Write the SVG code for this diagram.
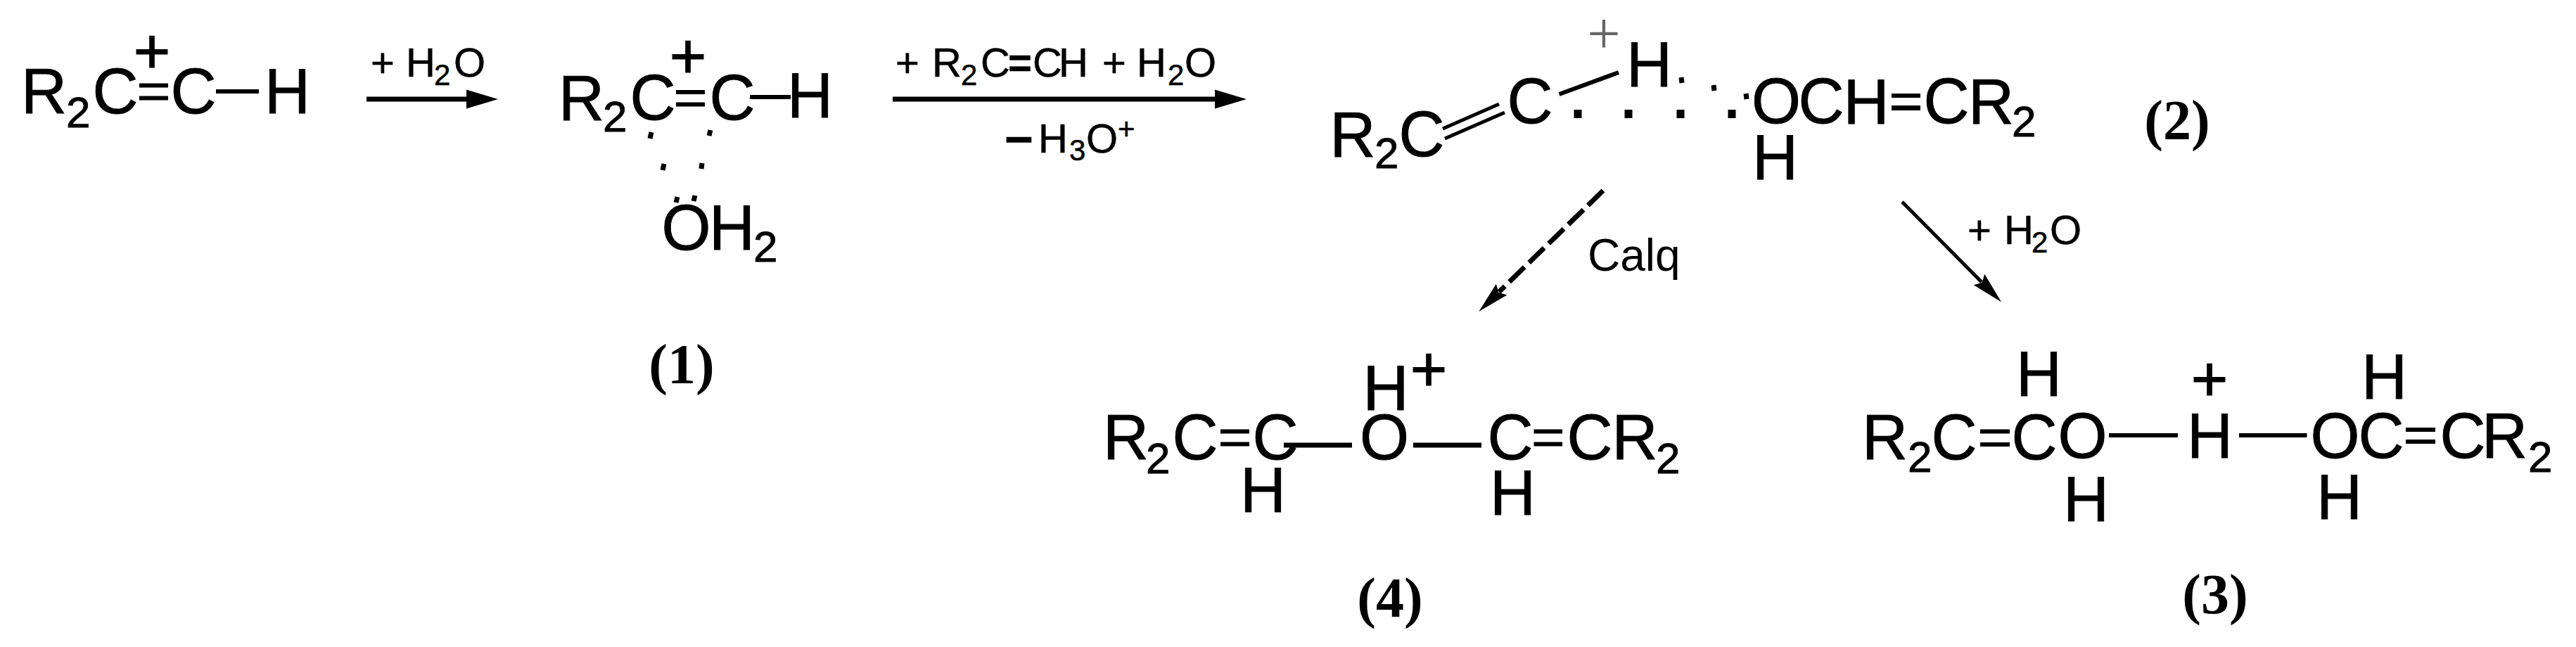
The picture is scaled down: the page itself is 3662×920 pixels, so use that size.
<svg xmlns="http://www.w3.org/2000/svg" width="3662" height="920" viewBox="0 0 3662 920">
<style>
text{font-family:"Liberation Sans",Arial,sans-serif;fill:#000}
.a{font-size:90px;stroke:#000;stroke-width:.9px}
.s{font-size:62px}
.l{font-size:58px;stroke:#000;stroke-width:.5px}
.ls{font-size:42px}
.b{font-weight:bold}
.p{font-size:90px;text-anchor:middle;stroke:#000;stroke-width:1.2px}
.n{font-family:"Liberation Serif","Times New Roman",serif;font-size:80px;font-weight:bold;text-anchor:middle}
line{stroke:#000;fill:none}
.w{stroke-width:7}
.d{stroke-width:6}
.t{stroke-width:5}
.dot{stroke-width:7}
.sq{stroke-width:11}
</style>
<defs>
<marker id="big" markerUnits="userSpaceOnUse" markerWidth="46" markerHeight="28" refX="1" refY="14" orient="auto"><path d="M0 0.5L45 14L0 27.5z"/></marker>
<marker id="thin" markerUnits="userSpaceOnUse" markerWidth="46" markerHeight="24" refX="5" refY="12" orient="auto"><path d="M0 1L45 12L0 23L6 12z"/></marker>
</defs>
<g id="connectors">
<line class="w" x1="521" y1="141" x2="664" y2="141" marker-end="url(#big)"/>
<line class="w" x1="1269" y1="141" x2="1728" y2="141" marker-end="url(#big)"/>
<line x1="2279" y1="271" x2="2131" y2="415" stroke-width="7" stroke-dasharray="30 9" marker-end="url(#thin)"/>
<line x1="2704" y1="287" x2="2817" y2="401" stroke-width="5" marker-end="url(#thin)"/>
</g>
<g id="reactant">
<text class="a" y="161"><tspan x="30">R</tspan><tspan class="s" x="94" y="181">2</tspan><tspan x="131.500" y="161">C</tspan><tspan x="242.500">C</tspan><tspan x="376">H</tspan></text>
<text class="p" x="216" y="104">+</text>
<line class="d" x1="198" y1="121.500" x2="239" y2="121.500"/><line class="d" x1="198" y1="139.500" x2="239" y2="139.500"/>
<line class="d" x1="307" y1="130" x2="368" y2="130"/>
</g>
<g id="node-1">
<text class="a"><tspan x="794" y="171">R</tspan><tspan class="s" x="857" y="187">2</tspan><tspan x="895.500" y="170">C</tspan><tspan x="1008.500" y="170">C</tspan><tspan x="1119" y="167">H</tspan></text>
<text class="p" x="978" y="111">+</text>
<line class="d" x1="961" y1="131" x2="1002" y2="131"/><line class="d" x1="961" y1="148.500" x2="1002" y2="148.500"/>
<line class="d" x1="1066" y1="138" x2="1124" y2="138"/>
<line class="dot" x1="926" y1="188" x2="924" y2="197"/><line class="dot" x1="1010" y1="185" x2="1008" y2="193"/>
<line class="dot" x1="944" y1="233" x2="942" y2="242"/><line class="dot" x1="998" y1="232" x2="997" y2="240"/>
<line class="dot" x1="963" y1="280" x2="961" y2="288"/><line class="dot" x1="988" y1="278" x2="986" y2="286"/>
<text class="a" y="355"><tspan x="940.600">O</tspan><tspan x="1008">H</tspan><tspan class="s" x="1071" y="372">2</tspan></text>
<text class="n" x="969" y="545">(1)</text>
</g>
<g id="node-2">
<text class="a"><tspan x="1890.500" y="223">R</tspan><tspan class="s" x="1954" y="239">2</tspan><tspan x="1988.500" y="222">C</tspan><tspan x="2142.500" y="175">C</tspan><tspan x="2312" y="123">H</tspan><tspan x="2490" y="175">O</tspan><tspan x="2556.500" y="175">C</tspan><tspan x="2620.500" y="176">H</tspan><tspan x="2734.500" y="175">C</tspan><tspan x="2798" y="176">R</tspan><tspan class="s" x="2860" y="194">2</tspan><tspan x="2491" y="255">H</tspan></text>
<text x="2280" y="76" font-size="84" text-anchor="middle" style="font-family:'Liberation Serif',serif;fill:#666">+</text>
<line class="t" x1="2051" y1="183" x2="2131" y2="148"/><line class="t" x1="2054" y1="197" x2="2139" y2="160"/>
<line class="d" x1="2216.500" y1="134" x2="2301" y2="103"/>
<line class="d" x1="2689" y1="136" x2="2730" y2="136"/><line class="w" x1="2689" y1="153.500" x2="2730" y2="153.500"/>
<g class="dots">
<line class="dot" x1="2390" y1="110" x2="2391" y2="118"/><line class="dot" x1="2436" y1="121" x2="2437" y2="129"/><line class="dot" x1="2482" y1="133" x2="2483" y2="141"/>
<line class="sq" x1="2243" y1="156" x2="2243" y2="168"/><line class="sq" x1="2315" y1="156" x2="2315" y2="168"/><line class="sq" x1="2389" y1="156" x2="2389" y2="168"/><line class="sq" x1="2462" y1="156" x2="2462" y2="168"/>
</g>
<text class="n" x="3095" y="198">(2)</text>
</g>
<g id="node-4">
<text class="a" y="653"><tspan x="1568">R</tspan><tspan class="s" x="1629" y="673">2</tspan><tspan x="1666.500" y="653">C</tspan><tspan x="1780.500">C</tspan><tspan x="1933">O</tspan><tspan x="2114.500">C</tspan><tspan x="2227.500">C</tspan><tspan x="2291.500">R</tspan><tspan class="s" x="2354" y="673">2</tspan><tspan x="1937.500" y="583">H</tspan><tspan x="1763" y="728">H</tspan><tspan x="2118" y="732">H</tspan></text>
<text class="p" x="2031" y="556">+</text>
<line class="d" x1="1735" y1="613.500" x2="1776" y2="613.500"/><line class="d" x1="1735" y1="631.500" x2="1776" y2="631.500"/>
<line class="w" x1="1825" y1="633" x2="1922" y2="633"/><line class="w" x1="2009" y1="633" x2="2106" y2="633"/>
<line class="d" x1="2180.500" y1="613.500" x2="2221" y2="613.500"/><line class="d" x1="2180.500" y1="631.500" x2="2221" y2="631.500"/>
<text class="n" x="1976" y="877">(4)</text>
</g>
<g id="node-3">
<text class="a" y="651"><tspan x="2647" y="653">R</tspan><tspan class="s" x="2712" y="671">2</tspan><tspan x="2745.500" y="653">C</tspan><tspan x="2859.500" y="653">C</tspan><tspan x="2925.500" y="651">O</tspan><tspan x="3109">H</tspan><tspan x="3284.500">O</tspan><tspan x="3352.500">C</tspan><tspan x="3468.500">C</tspan><tspan x="3528">R</tspan><tspan class="s" x="3594" y="671">2</tspan><tspan x="2866" y="563">H</tspan><tspan x="3357" y="567">H</tspan><tspan x="2933" y="741">H</tspan><tspan x="3293" y="738">H</tspan></text>
<text class="p" x="3141" y="570">+</text>
<line class="d" x1="2815" y1="613.500" x2="2857" y2="613.500"/><line class="d" x1="2815" y1="632" x2="2857" y2="632"/>
<line class="d" x1="2998" y1="619" x2="3096" y2="619"/><line class="d" x1="3183" y1="619" x2="3279.500" y2="619"/>
<line class="d" x1="3420" y1="611" x2="3462" y2="611"/><line class="d" x1="3420" y1="628" x2="3462" y2="628"/>
<text class="n" x="3149" y="872">(3)</text>
</g>
<g id="labels">
<text class="l" y="109"><tspan x="527">+</tspan><tspan x="577">H</tspan><tspan class="ls" x="617" y="121">2</tspan><tspan x="645" y="109">O</tspan></text>
<text class="l" y="109"><tspan x="1273">+</tspan><tspan x="1325">R</tspan><tspan class="ls" x="1366" y="121">2</tspan><tspan x="1394" y="109">C</tspan><tspan class="b" x="1433">=</tspan><tspan x="1468">C</tspan><tspan x="1505">H</tspan><tspan x="1567">+</tspan><tspan x="1616">H</tspan><tspan class="ls" x="1660" y="121">2</tspan><tspan x="1684" y="109">O</tspan></text>
<text class="l" y="217"><tspan class="b" style="font-size:70px" x="1428" y="222">−</tspan><tspan x="1476" y="217">H</tspan><tspan class="ls" x="1520" y="228">3</tspan><tspan x="1544" y="217">O</tspan><tspan class="ls" x="1589" y="198">+</tspan></text>
<text x="2257" y="385" font-size="64">Calq</text>
<text class="l" y="347"><tspan x="2797">+</tspan><tspan x="2849">H</tspan><tspan class="ls" x="2888" y="359">2</tspan><tspan x="2914" y="347">O</tspan></text>
</g>
</svg>
